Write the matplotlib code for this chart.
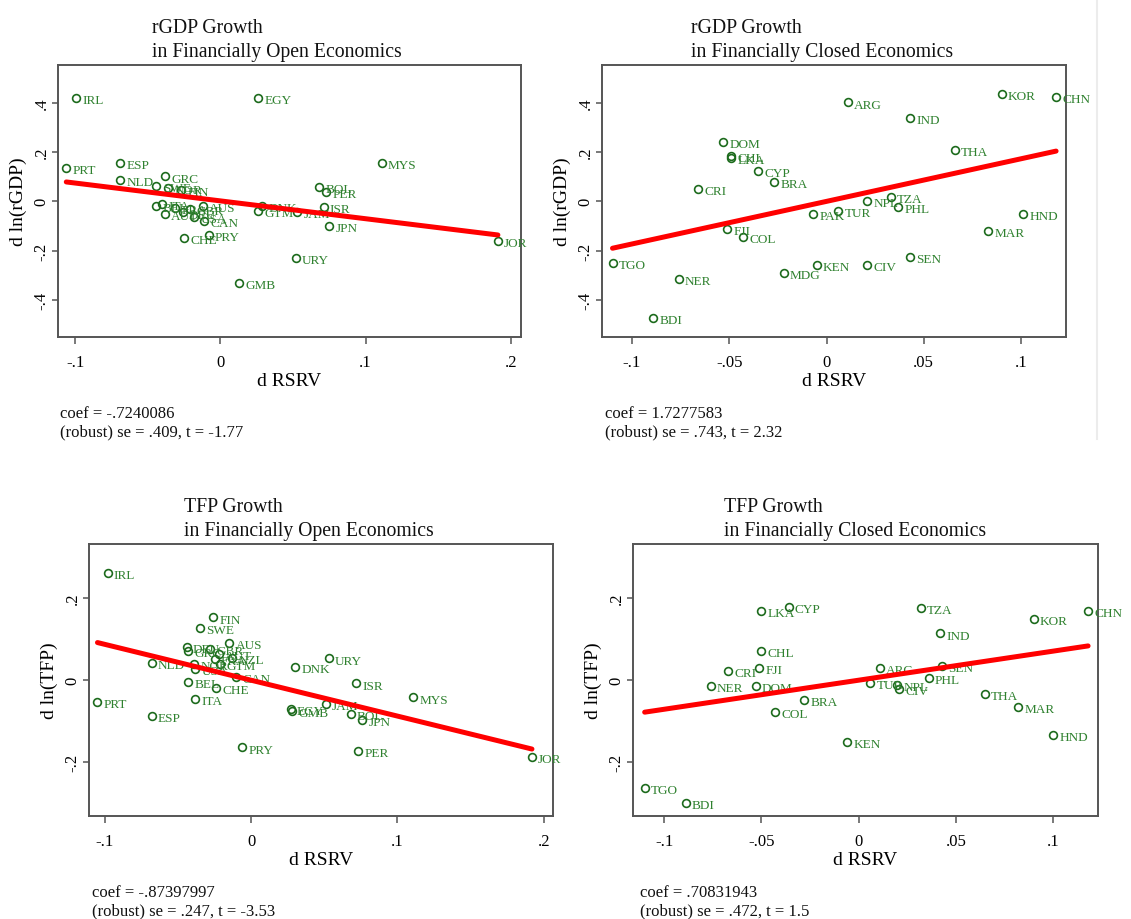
import matplotlib
matplotlib.use('Agg')
import matplotlib.pyplot as plt
import numpy as np

plt.rcParams['font.family'] = ['Liberation Serif', 'DejaVu Serif']

# ---- rGDP growth, financially open economies ----
gdp_open_codes = ['IRL', 'EGY', 'PRT', 'ESP', 'NLD', 'MYS', 'GRC', 'SWE', 'NOR', 'FIN',
                  'BEL', 'ITA', 'AUT', 'FRA', 'DEU', 'GBR', 'USA', 'AUS', 'CAN', 'DNK',
                  'GTM', 'CHE', 'PRY', 'JAM', 'BOL', 'PER', 'ISR', 'JPN', 'URY', 'JOR', 'GMB']
gdp_open_x = [-0.099, 0.026, -0.106, -0.069, -0.069, 0.111, -0.038, -0.044, -0.036, -0.027,
              -0.044, -0.040, -0.038, -0.031, -0.026, -0.021, -0.018, -0.012, -0.011, 0.029,
              0.026, -0.025, -0.008, 0.053, 0.068, 0.073, 0.071, 0.075, 0.052, 0.191, 0.013]
gdp_open_y = [0.419, 0.419, 0.134, 0.155, 0.087, 0.155, 0.101, 0.064, 0.055, 0.045,
              -0.020, -0.010, -0.050, -0.025, -0.045, -0.030, -0.065, -0.020, -0.078, -0.018,
              -0.038, -0.147, -0.135, -0.042, 0.057, 0.040, -0.022, -0.098, -0.228, -0.160, -0.331]

# ---- rGDP growth, financially closed economies ----
gdp_closed_codes = ['ARG', 'KOR', 'CHN', 'IND', 'DOM', 'CHL', 'LKA', 'THA', 'CYP', 'BRA',
                    'CRI', 'TZA', 'NPL', 'PHL', 'TUR', 'PAK', 'HND', 'MAR', 'FJI', 'COL',
                    'TGO', 'SEN', 'KEN', 'CIV', 'MDG', 'NER', 'BDI']
gdp_closed_x = [0.011, 0.090, 0.118, 0.043, -0.053, -0.049, -0.049, 0.066, -0.035, -0.027,
                -0.066, 0.033, 0.021, 0.037, 0.006, -0.007, 0.101, 0.083, -0.051, -0.043,
                -0.110, 0.043, -0.005, 0.021, -0.022, -0.076, -0.089]
gdp_closed_y = [0.401, 0.434, 0.422, 0.338, 0.242, 0.185, 0.177, 0.208, 0.124, 0.077,
                0.050, 0.019, 0.003, -0.024, -0.038, -0.051, -0.051, -0.119, -0.112, -0.143,
                -0.250, -0.227, -0.257, -0.257, -0.291, -0.315, -0.474]

# ---- TFP growth, financially open economies ----
tfp_open_codes = ['IRL', 'FIN', 'SWE', 'AUS', 'DEU', 'GRC', 'GBR', 'AUT', 'NZL', 'FRA',
                  'NLD', 'NOR', 'USA', 'GTM', 'CAN', 'BEL', 'CHE', 'ITA', 'PRT', 'ESP',
                  'URY', 'DNK', 'ISR', 'MYS', 'EGY', 'GMB', 'JAM', 'BOL', 'JPN', 'PRY',
                  'PER', 'JOR']
tfp_open_x = [-0.098, -0.026, -0.035, -0.015, -0.044, -0.043, -0.028, -0.022, -0.013, -0.025,
              -0.068, -0.039, -0.038, -0.021, -0.010, -0.043, -0.024, -0.038, -0.105, -0.068,
              0.053, 0.030, 0.072, 0.111, 0.027, 0.028, 0.051, 0.068, 0.076, -0.006,
              0.073, 0.192]
tfp_open_y = [0.261, 0.153, 0.128, 0.090, 0.082, 0.072, 0.076, 0.063, 0.055, 0.051,
              0.041, 0.039, 0.027, 0.039, 0.007, -0.004, -0.018, -0.046, -0.053, -0.087,
              0.053, 0.033, -0.008, -0.042, -0.071, -0.075, -0.059, -0.083, -0.097, -0.164,
              -0.172, -0.186]

# ---- TFP growth, financially closed economies ----
tfp_closed_codes = ['LKA', 'CYP', 'TZA', 'CHN', 'KOR', 'IND', 'CHL', 'CRI', 'FJI', 'ARG',
                    'SEN', 'PHL', 'NER', 'DOM', 'TUR', 'NPL', 'CIV', 'THA', 'MAR', 'BRA',
                    'COL', 'KEN', 'HND', 'TGO', 'BDI']
tfp_closed_x = [-0.050, -0.036, 0.032, 0.118, 0.090, 0.042, -0.050, -0.067, -0.051, 0.011,
                0.043, 0.036, -0.076, -0.053, 0.006, 0.020, 0.021, 0.065, 0.082, -0.028,
                -0.043, -0.006, 0.100, -0.110, -0.089]
tfp_closed_y = [0.169, 0.179, 0.177, 0.169, 0.149, 0.114, 0.072, 0.023, 0.029, 0.029,
                0.035, 0.005, -0.015, -0.015, -0.006, -0.012, -0.022, -0.033, -0.065, -0.049,
                -0.077, -0.150, -0.133, -0.262, -0.300]

# regression slopes (reported coef) and intercepts
slopes = [-0.7240086, 1.7277583, -0.87397997, 0.70831943]
intercepts = [0.002, 0.0, 0.0, 0.0]
coef_lines = ['coef = -.7240086', 'coef = 1.7277583', 'coef = -.87397997', 'coef = .70831943']
se_lines = ['(robust) se = .409, t = -1.77', '(robust) se = .743, t = 2.32',
            '(robust) se = .247, t = -3.53', '(robust) se = .472, t = 1.5']
titles = ['rGDP Growth', 'rGDP Growth', 'TFP Growth', 'TFP Growth']
subtitles = ['in Financially Open Economics', 'in Financially Closed Economics',
             'in Financially Open Economics', 'in Financially Closed Economics']
ylabels = ['d ln(rGDP)', 'd ln(rGDP)', 'd ln(TFP)', 'd ln(TFP)']

wide_xticks = [-0.1, 0, 0.1, 0.2]
wide_xticklabels = ['-.1', '0', '.1', '.2']
narrow_xticks = [-0.1, -0.05, 0, 0.05, 0.1]
narrow_xticklabels = ['-.1', '-.05', '0', '.05', '.1']
gdp_yticks = [-0.4, -0.2, 0, 0.2, 0.4]
gdp_yticklabels = ['-.4', '-.2', '0', '.2', '.4']
tfp_yticks = [-0.2, 0, 0.2]
tfp_yticklabels = ['-.2', '0', '.2']

W, H = 1131, 920
MARK = '#1d6b1d'
LABEL = '#2f812f'
FRAME = '#555555'


def px_box(l, r, t, b):
    return [l / W, 1 - b / H, (r - l) / W, (b - t) / H]


def ftext(fig, x, y, s, size):
    fig.text(x / W, 1 - y / H, s, fontsize=size, va='baseline', ha='left', color='#111111')


def draw_panel(fig, i, box, codes, xs, ys, xlim, ylim, xt, xtl, yt, ytl, title_xy, coef_xy):
    ax = fig.add_axes(box)
    ax.plot(xs, ys, 'o', ms=5.6, mfc='none', mec=MARK, mew=1.2, zorder=3)
    for c, x, y in zip(codes, xs, ys):
        ax.annotate(c, (x, y), xytext=(4.5, -1.5), textcoords='offset points',
                    va='center', ha='left', fontsize=9.5, color=LABEL,
                    annotation_clip=False, zorder=3)
    xa = np.array(xs)
    lx = np.array([xa.min(), xa.max()])
    ax.plot(lx, intercepts[i] + slopes[i] * lx, color='#ff0000', lw=3.6,
            solid_capstyle='round', zorder=4)
    ax.set_xlim(*xlim)
    ax.set_ylim(*ylim)
    ax.set_xticks(xt)
    ax.set_xticklabels(xtl)
    ax.set_yticks(yt)
    ax.set_yticklabels(ytl, rotation=90, va='center')
    ax.tick_params(axis='x', length=5, width=1.1, pad=7, labelsize=12, color=FRAME)
    ax.tick_params(axis='y', length=4, width=1.1, pad=2, labelsize=12, color=FRAME)
    for s in ax.spines.values():
        s.set_color(FRAME)
        s.set_linewidth(1.4)
    ax.set_xlabel('d RSRV', fontsize=14, labelpad=2)
    ax.set_ylabel(ylabels[i], fontsize=14, labelpad=5)
    ftext(fig, title_xy[0], title_xy[1], titles[i], 14.2)
    ftext(fig, title_xy[0], title_xy[1] + 24, subtitles[i], 14.2)
    ftext(fig, coef_xy[0], coef_xy[1], coef_lines[i], 12)
    ftext(fig, coef_xy[0], coef_xy[1] + 18, se_lines[i], 12)
    return ax


fig = plt.figure(figsize=(W / 100, H / 100), dpi=100)

draw_panel(fig, 0, px_box(58, 521, 66, 338), gdp_open_codes, gdp_open_x, gdp_open_y,
           (-0.1117, 0.2069), (-0.550, 0.553), wide_xticks, wide_xticklabels,
           gdp_yticks, gdp_yticklabels, (152, 33), (60, 418))
draw_panel(fig, 1, px_box(602, 1066, 66, 338), gdp_closed_codes, gdp_closed_x, gdp_closed_y,
           (-0.1154, 0.1231), (-0.550, 0.553), narrow_xticks, narrow_xticklabels,
           gdp_yticks, gdp_yticklabels, (691, 33), (605, 418))
draw_panel(fig, 2, px_box(89, 553, 545, 817), tfp_open_codes, tfp_open_x, tfp_open_y,
           (-0.1108, 0.2064), (-0.331, 0.332), wide_xticks, wide_xticklabels,
           tfp_yticks, tfp_yticklabels, (184, 512), (92, 897))
draw_panel(fig, 3, px_box(633, 1098, 545, 817), tfp_closed_codes, tfp_closed_x, tfp_closed_y,
           (-0.116, 0.1231), (-0.331, 0.332), narrow_xticks, narrow_xticklabels,
           tfp_yticks, tfp_yticklabels, (724, 512), (640, 897))

# faint page edge on the right of the upper row
fig.add_artist(plt.Line2D([1097 / W, 1097 / W], [1 - 440 / H, 1.0], color='#ececec', lw=1.5))

fig.savefig('out.png', dpi=100, facecolor='white')
